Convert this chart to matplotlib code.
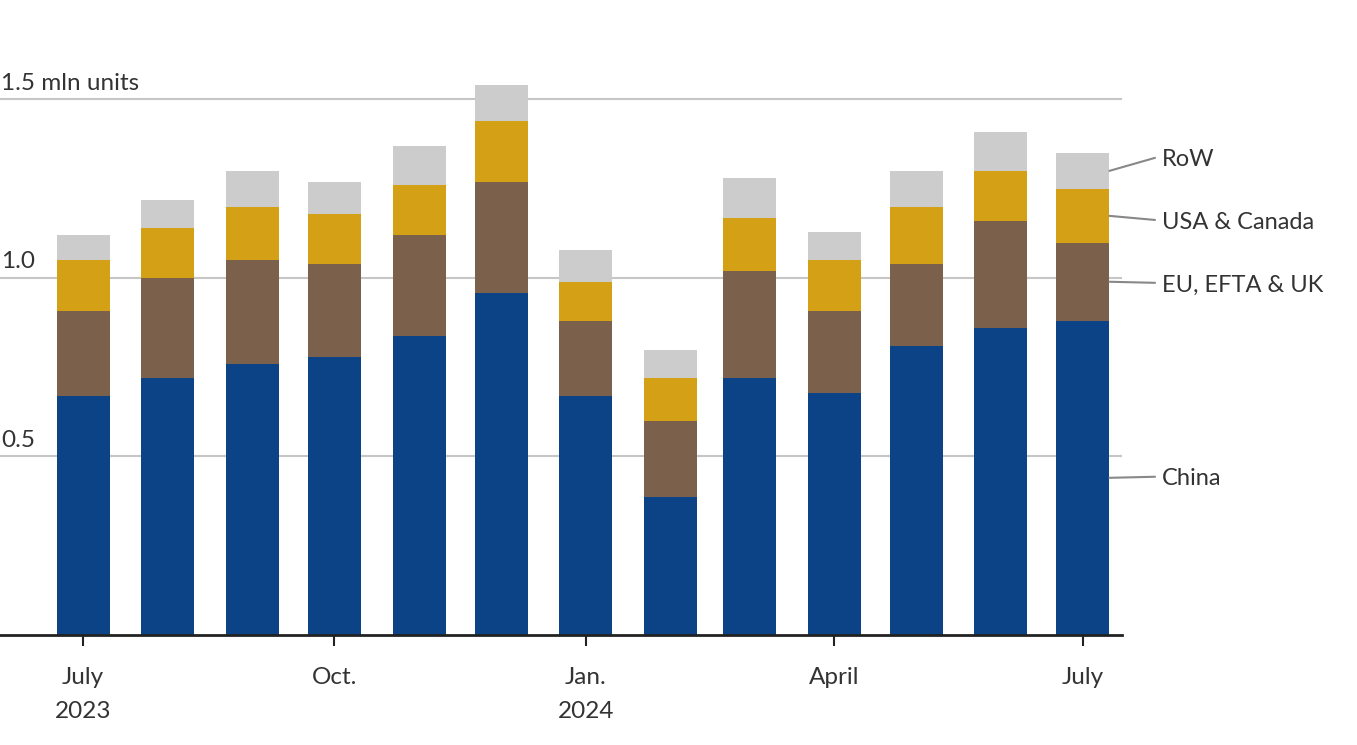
import matplotlib
matplotlib.use("Agg")
import matplotlib.pyplot as plt
import matplotlib.dates as mdates
import numpy as np
import pandas as pd

plt.rcParams['font.family'] = ['Lato', 'DejaVu Sans']

# monthly sales, mln units
months = ["2023-07", "2023-08", "2023-09", "2023-10", "2023-11", "2023-12",
          "2024-01", "2024-02", "2024-03", "2024-04", "2024-05", "2024-06", "2024-07"]
china = [0.669, 0.720, 0.759, 0.779, 0.838, 0.958, 0.669, 0.387, 0.720, 0.678, 0.810, 0.860, 0.880]
eu = [0.239, 0.280, 0.291, 0.260, 0.282, 0.311, 0.211, 0.212, 0.300, 0.230, 0.229, 0.300, 0.218]
usa = [0.142, 0.140, 0.149, 0.140, 0.141, 0.171, 0.109, 0.121, 0.148, 0.142, 0.160, 0.140, 0.151]
row = [0.070, 0.078, 0.101, 0.090, 0.109, 0.101, 0.089, 0.078, 0.112, 0.079, 0.101, 0.109, 0.101]

series = [("China", china, "#0c4386"),
          ("EU, EFTA & UK", eu, "#7b604b"),
          ("USA & Canada", usa, "#d4a116"),
          ("RoW", row, "#cccccc")]
label_y = {"China": 0.443, "EU, EFTA & UK": 0.986, "USA & Canada": 1.162, "RoW": 1.336}

dates = pd.to_datetime(months)
x = mdates.date2num(dates)
width = 19.4
txt = "#333333"
fs = 17.5

fig = plt.figure(figsize=(13.57, 7.45), dpi=100)
ax = fig.add_axes([0, 0.1477, 0.8268, 0.7718])

bottom = np.zeros(len(x))
for name, vals, col in series:
    vals = np.array(vals)
    ax.bar(x, vals, width=width, bottom=bottom, color=col, zorder=2)
    # leader line from the last bar's segment to the label
    mid = bottom[-1] + vals[-1] / 2
    ax.annotate("", xy=(x[-1] + width / 2, mid), xytext=(x[-1] + 26.4, label_y[name]),
                arrowprops=dict(arrowstyle="-", color="#888888", lw=1.5,
                                shrinkA=0, shrinkB=0),
                annotation_clip=False)
    ax.text(x[-1] + 28.9, label_y[name] - 0.006, name, fontsize=17, color=txt,
            va="center", ha="left", clip_on=False)
    bottom = bottom + vals

ax.set_xlim(x[0] - 30.4, x[-1] + 14.3)
ax.set_ylim(0, 1.61)

# gridlines
for v in [0.5, 1.0, 1.5]:
    ax.axhline(v, color="#c6c6c6", lw=1.5, zorder=1)
ylabels = {0.5: "0.5", 1.0: "1.0", 1.5: "1.5 mln units"}
for v, s in ylabels.items():
    ax.annotate(s, xy=(0, v), xycoords=ax.get_yaxis_transform(),
                xytext=(1, 7), textcoords="offset points",
                fontsize=fs, color=txt, va="baseline", ha="left")

for sp in ["top", "right", "left"]:
    ax.spines[sp].set_visible(False)
ax.spines["bottom"].set_color("#222222")
ax.spines["bottom"].set_linewidth(2)
ax.spines["bottom"].set_zorder(3)
ax.set_yticks([])

tick_idx = [0, 3, 6, 9, 12]
tick_labels = ["July\n2023", "Oct.", "Jan.\n2024", "April", "July"]
ax.set_xticks(x[tick_idx])
ax.set_xticklabels(tick_labels, fontsize=fs, color=txt, linespacing=1.75, va="top")
ax.tick_params(axis="x", length=8, width=1.5, color="#222222", pad=15)

fig.savefig("out.png", dpi=100)
